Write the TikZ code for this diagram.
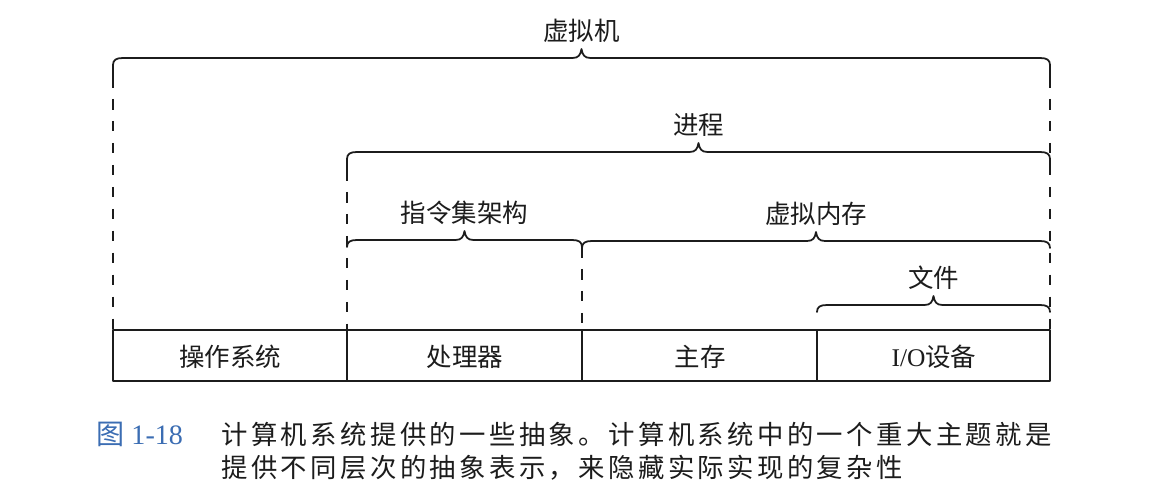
\documentclass[tikz,border=0pt]{standalone}
\usepackage{fontspec}
\setmainfont{Liberation Serif}
\newfontfamily\cjk{Noto Sans CJK SC}
\usepackage{tikz}
\usetikzlibrary{positioning}
\definecolor{absink}{HTML}{1C1C1C}
\definecolor{absblue}{HTML}{3B6DB3}
% 花括号：#1 端部下垂长度，#2 名字，#3 左端，#4 右端，#5 横线高度，#6 文字
\newcommand\absbrace[6][20]{%
  \pgfmathsetmacro\bmid{(#3+#4)/2}
  \draw[brc] (#3,#5+#1) -- (#3,#5+7) .. controls (#3,#5+2) and (#3+3,#5) .. (#3+10,#5)
    -- (\bmid-9,#5) .. controls (\bmid-3,#5) and (\bmid-1,#5-3) .. (\bmid,#5-9)
    .. controls (\bmid+1,#5-3) and (\bmid+3,#5) .. (\bmid+9,#5)
    -- (#4-10,#5) .. controls (#4-3,#5) and (#4,#5+2) .. (#4,#5+7) -- (#4,#5+#1);
  \node[lbl] (#2) at (\bmid,#5-27) {#6};
}

\begin{document}
\begin{tikzpicture}[x=.02cm,y=-.02cm,line join=round,text=absink,
  lbl/.style={font=\cjk\fontsize{14.5pt}{16pt}\selectfont,inner sep=0pt},
  brc/.style={draw=absink,line width=1pt,line cap=round},
  guide/.style={draw=absink,line width=1.1pt,dash pattern=on 6pt off 6.5pt},
  boxline/.style={draw=absink,line width=1.15pt},
  captxt/.style={anchor=west,inner sep=0pt,font=\cjk\fontsize{15pt}{18pt}\selectfont\addfontfeature{LetterSpace=13}}]
  \path[use as bounding box] (0,0) rectangle (1161,497);
  \fill[white] (0,0) rectangle (1161,497);
  % 底部四格
  \draw[boxline] (113,330) rectangle (1050,381);
  \foreach \xx in {347,582,817} \draw[boxline] (\xx,330) -- (\xx,381);
  \node[lbl] (os) at (230,357) {操作系统};
  \node[lbl] (cpu) at (465,357) {处理器};
  \node[lbl] (mem) at (700,357) {主存};
  \node[lbl] (io) at (934,357) {{\rmfamily I/O}设备};
  % 虚线
  \draw[guide] (113,77) -- (113,330);
  \draw[guide] (347,170) -- (347,330);
  \draw[guide] (582,247) -- (582,330);
  \draw[guide] (1050,77) -- (1050,330);
  % 各层抽象
  \absbrace{vm}{113}{1050}{58}{虚拟机}
  \absbrace[18]{proc}{347}{1050}{152}{进程}
  \absbrace[7]{isa}{347}{582}{240}{指令集架构}
  \absbrace[7]{vmem}{582}{1050}{241}{虚拟内存}
  \absbrace[7]{file}{817}{1050}{305}{文件}
  % 图题
  \node[anchor=west,inner sep=0pt,text=absblue,font=\fontsize{16pt}{18pt}\selectfont] (fignum) at (96,434) {{\cjk 图} 1-18};
  \node[captxt] (cap1) at (221,434) {计算机系统提供的一些抽象。计算机系统中的一个重大主题就是};
  \node[captxt] (cap2) at (221,468) {提供不同层次的抽象表示，来隐藏实际实现的复杂性};
\end{tikzpicture}
\end{document}
